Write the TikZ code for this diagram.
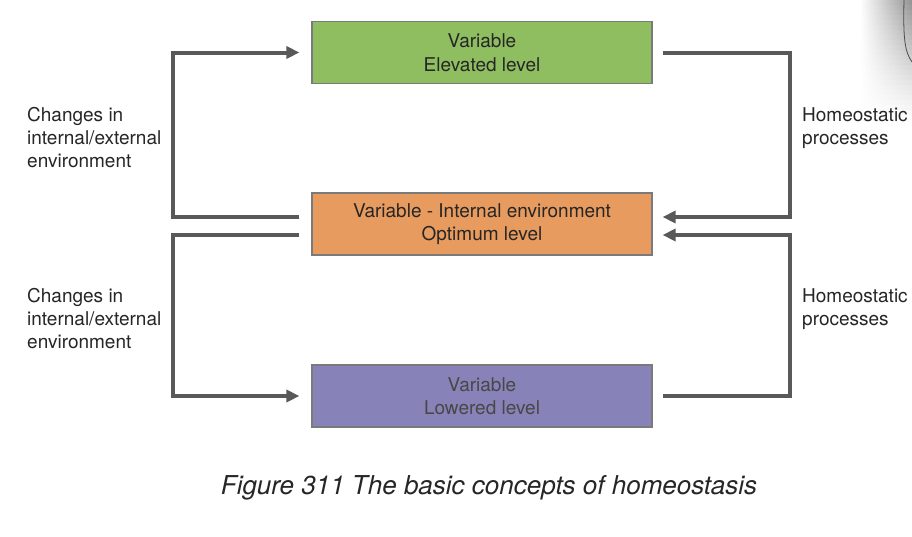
\documentclass[tikz,border=0pt]{standalone}
\usepackage{fontspec}
\setmainfont{TeX Gyre Heros}
\usetikzlibrary{arrows.meta,calc}
\definecolor{boxgreen}{HTML}{8FBE61}
\definecolor{boxorange}{HTML}{E89B5E}
\definecolor{boxpurple}{HTML}{8782B8}
\definecolor{boxline}{HTML}{7A7A7A}
\definecolor{connc}{HTML}{595959}
\definecolor{txt}{HTML}{262626}
\begin{document}
\begin{tikzpicture}[x=1pt,y=-1pt,
  varbox/.style={draw=boxline, line width=1.2pt, minimum width=340pt, minimum height=62pt,
    inner sep=0pt, align=center, text=txt, font=\fontsize{19}{23.5}\selectfont},
  conn/.style={draw=connc, line width=4pt, -{Triangle[length=13pt,width=12pt]}},
  sidelabel/.style={anchor=north west, inner sep=0pt, align=left, text=txt,
    font=\fontsize{19}{23}\selectfont}]
\useasboundingbox (0,0) rectangle (912,536);
\fill[white] (0,0) rectangle (912,536);
% page-edge shading at top right
\foreach \j in {0,...,24} {
  \pgfmathsetmacro\k{42*(1-\j/25)^1.3}
  \shade[left color=white, right color=black!\k] (860,5*\j) rectangle (912,5*\j+5.6);
}
\draw[black!70, line width=0.8pt] (904,0) .. controls (903,40) and (905,52) .. (912,62);
% boxes
\node[varbox, fill=boxgreen] (top) at (482,52.5) {Variable\\Elevated level};
\node[varbox, fill=boxorange] (mid) at (482,224) {Variable - Internal environment\\Optimum level};
\node[varbox, fill=boxpurple, text=black!72] (bot) at (482,396) {Variable\\Lowered level};
% connectors
\draw[conn] ($(mid.west)+(-12,-7)$) -- ++(-126,0) |- ($(top.west)+(-12,0)$);
\draw[conn] ($(mid.west)+(-12,11)$) -- ++(-126,0) |- ($(bot.west)+(-12,0)$);
\draw[conn] ($(top.east)+(10,0)$) -- ++(127,0) |- ($(mid.east)+(10,-7)$);
\draw[conn] ($(bot.east)+(10,0)$) -- ++(127,0) |- ($(mid.east)+(10,11)$);
% labels
\node[sidelabel] (lt) at (27,107.5) {Changes in\\internal/external\\environment};
\node[sidelabel] (lb) at (27,288.5) {Changes in\\internal/external\\environment};
\node[sidelabel] (rt) at (802,107.5) {Homeostatic\\processes};
\node[sidelabel] (rb) at (802,288.5) {Homeostatic\\processes};
% caption
\node[text=txt, font=\fontsize{26}{30}\selectfont\itshape] (cap) at (489,488) {Figure 311 The basic concepts of homeostasis};
\end{tikzpicture}
\end{document}
